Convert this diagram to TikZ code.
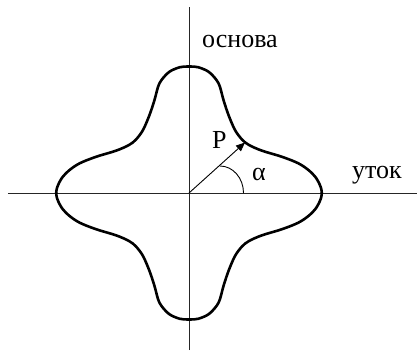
\documentclass[tikz,border=0pt]{standalone}
\usepackage{fontspec}
\setmainfont{Liberation Serif}
\usetikzlibrary{arrows.meta, positioning}

\begin{document}
\begin{tikzpicture}[
    x=1pt, y=1pt,
    axis/.style={line width=0.9pt, black!85},
    profile/.style={line width=2.6pt, black, line join=round, line cap=round},
    vec/.style={-{Triangle[length=9pt, width=7.5pt]}, line width=0.9pt},
    anglearc/.style={line width=0.9pt},
    lbl/.style={font=\fontsize{26}{30}\selectfont, inner sep=0pt, anchor=base west}
]

\useasboundingbox (-189, -158) rectangle (228, 193);

% === OSY ===

\coordinate (O) at (0, 0);
\coordinate (xl) at (-181, 0);
\coordinate (xr) at (228, 0);
\coordinate (yb) at (0, -157);
\coordinate (yt) at (0, 186);

\draw[axis] (xl) -- (xr);
\draw[axis] (yb) -- (yt);

% === PROFIL (ctvrtina, zrcadlene) ===

\foreach \sx/\sy in {1/1, -1/1, -1/-1, 1/-1} {
    \draw[profile, xscale=\sx, yscale=\sy] plot[smooth, tension=0.55] coordinates {
        (0,126.5) (2.5,126.45) (9.5,125.7) (19.5,121.3) (27.5,113) (31,106) (34.5,93)
        (39.5,78) (46,63) (53,53.5) (60,48) (73,42.3) (92.7,36.3)
        (109.3,29.7) (120,22.5) (127.5,14.5) (131.5,6.5) (132.6,2.2) (132.7,0)
    };
}

% === VEKTOR A UHEL ===

\coordinate (P) at (56, 50.5);
\coordinate (A) at (31, 27);

\draw[vec] (O) -- (P);
\draw[anglearc] (A) arc[start angle=90, end angle=0, x radius=23.5, y radius=27];

% === POPISKY ===

\node[lbl] (osnova) at (13, 145.7) {основа};
\node[lbl] (utok) at (163, 14.7) {уток};
\node[lbl] (plbl) at (23, 45) {P};
\node[lbl] (alpha) at (63, 13) {α};

\end{tikzpicture}
\end{document}
